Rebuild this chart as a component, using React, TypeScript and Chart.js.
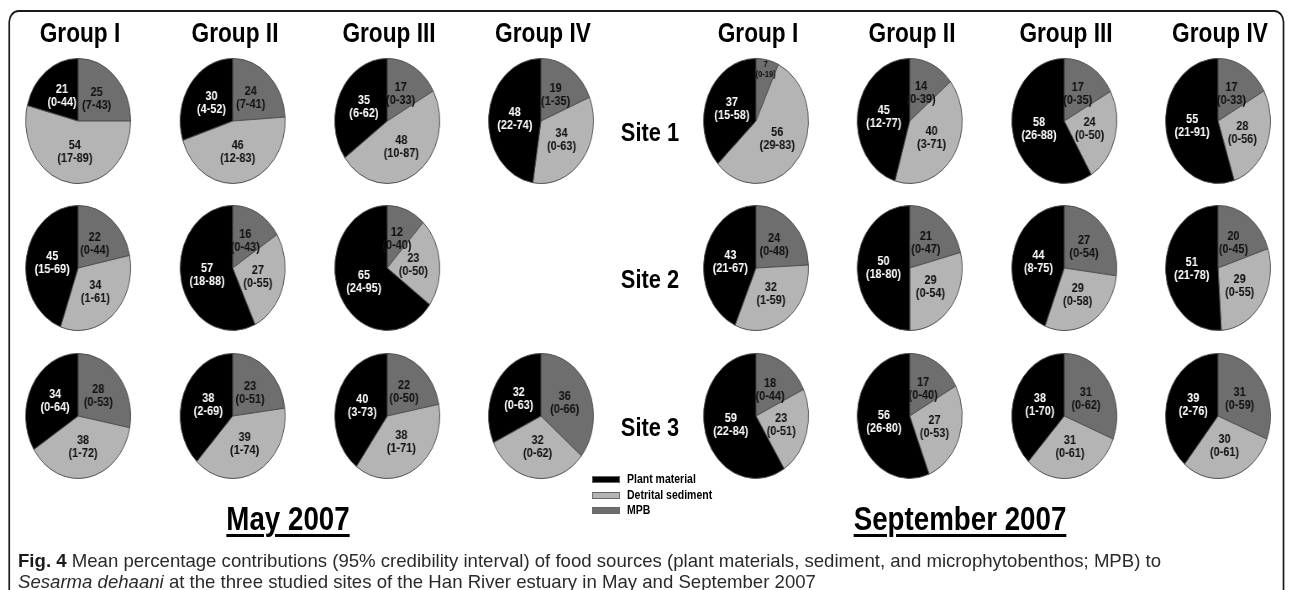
import React, { useEffect, useRef } from 'react';
import { Chart, registerables } from 'chart.js';

Chart.register(...registerables);

// ---------------- DATA ----------------
const groups = ['Group I', 'Group II', 'Group III', 'Group IV'];
const sites = ['Site 1', 'Site 2', 'Site 3'];
const periods = ['May 2007', 'September 2007'];
const sources = ['Plant material', 'Detrital sediment', 'MPB'];

// rows = sites, columns = groups; null = no pie
const mayPlant = [[21, 30, 35, 48], [45, 57, 65, null], [34, 38, 40, 32]];
const mayPlantCI = [['0-44', '4-52', '6-62', '22-74'], ['15-69', '18-88', '24-95', null], ['0-64', '2-69', '3-73', '0-63']];
const maySediment = [[54, 46, 48, 34], [34, 27, 23, null], [38, 39, 38, 32]];
const maySedimentCI = [['17-89', '12-83', '10-87', '0-63'], ['1-61', '0-55', '0-50', null], ['1-72', '1-74', '1-71', '0-62']];
const mayMpb = [[25, 24, 17, 19], [22, 16, 12, null], [28, 23, 22, 36]];
const mayMpbCI = [['7-43', '7-41', '0-33', '1-35'], ['0-44', '0-43', '0-40', null], ['0-53', '0-51', '0-50', '0-66']];

const sepPlant = [[37, 45, 58, 55], [43, 50, 44, 51], [59, 56, 38, 39]];
const sepPlantCI = [['15-58', '12-77', '26-88', '21-91'], ['21-67', '18-80', '8-75', '21-78'], ['22-84', '26-80', '1-70', '2-76']];
const sepSediment = [[56, 40, 24, 28], [32, 29, 29, 29], [23, 27, 31, 30]];
const sepSedimentCI = [['29-83', '3-71', '0-50', '0-56'], ['1-59', '0-54', '0-58', '0-55'], ['0-51', '0-53', '0-61', '0-61']];
const sepMpb = [[7, 14, 17, 17], [24, 21, 27, 20], [18, 17, 31, 31]];
const sepMpbCI = [['0-19', '0-39', '0-35', '0-33'], ['0-48', '0-47', '0-54', '0-45'], ['0-44', '0-40', '0-62', '0-59']];

// ---------------- STYLE / LAYOUT ----------------
const S = 0.84; // horizontal squeeze of the original figure
const VW = 1290 / S;
const FONT = "'Liberation Sans', Arial, Helvetica, sans-serif";
const COL_PLANT = '#000000';
const COL_SED = '#b4b4b4';
const COL_MPB = '#6e6e6e';
const PIE_D = 126;

const colX = [[78, 233, 387, 541], [756, 910, 1064, 1218]];
const rowY = [121, 268, 416];

const sliceLabels = {
  id: 'sliceLabels',
  afterDatasetsDraw(chart: any) {
    const ctx = chart.ctx;
    const meta = chart.getDatasetMeta(0);
    const opts = chart.options.plugins.sliceLabels;
    const vals = chart.data.datasets[0].data;
    meta.data.forEach((arc: any, i: number) => {
      const p = arc.getProps(['x', 'y', 'startAngle', 'endAngle', 'outerRadius'], true);
      const v = vals[i];
      const small = v < 10;
      const mid = (p.startAngle + p.endAngle) / 2;
      const f = small ? 0.84 : 0.5;
      const px = p.x + Math.cos(mid) * p.outerRadius * f;
      const py = p.y + Math.sin(mid) * p.outerRadius * f;
      const fs = small ? 9 : 13;
      const lh = small ? 10 : 13;
      ctx.save();
      ctx.font = `bold ${fs}px ${FONT}`;
      ctx.textAlign = 'center';
      ctx.textBaseline = 'middle';
      ctx.fillStyle = opts.textColors[i];
      ctx.fillText(String(v), px, py - lh / 2);
      ctx.fillText(`(${opts.cis[i]})`, px, py + lh / 2);
      ctx.restore();
    });
  },
};

function Pie({ plant, sed, mpb, plantCI, sedCI, mpbCI, cx, cy }: any) {
  const ref = useRef<HTMLCanvasElement | null>(null);
  useEffect(() => {
    if (!ref.current) return;
    const chart = new Chart(ref.current, {
      type: 'pie',
      data: {
        labels: [sources[2], sources[1], sources[0]],
        datasets: [
          {
            data: [mpb, sed, plant],
            backgroundColor: [COL_MPB, COL_SED, COL_PLANT],
            borderColor: '#505050',
            borderWidth: 1,
          },
        ],
      },
      options: {
        animation: false,
        responsive: false,
        events: [],
        layout: { padding: 0 },
        plugins: {
          legend: { display: false },
          tooltip: { enabled: false },
          sliceLabels: { cis: [mpbCI, sedCI, plantCI], textColors: ['#111', '#111', '#fff'] },
        } as any,
      },
      plugins: [sliceLabels],
    });
    return () => chart.destroy();
  }, []);
  return (
    <canvas
      ref={ref}
      width={PIE_D}
      height={PIE_D}
      style={{ position: 'absolute', left: cx / S - PIE_D / 2, top: cy - PIE_D / 2, width: PIE_D, height: PIE_D }}
    />
  );
}

function Text({ x, y, children, style }: any) {
  return (
    <div
      style={{
        position: 'absolute',
        left: x / S,
        top: y,
        transform: 'translate(-50%, -50%)',
        whiteSpace: 'nowrap',
        fontFamily: FONT,
        fontWeight: 'bold',
        color: '#000',
        ...style,
      }}
    >
      {children}
    </div>
  );
}

export default function App() {
  const panels = [
    { plant: mayPlant, plantCI: mayPlantCI, sed: maySediment, sedCI: maySedimentCI, mpb: mayMpb, mpbCI: mayMpbCI },
    { plant: sepPlant, plantCI: sepPlantCI, sed: sepSediment, sedCI: sepSedimentCI, mpb: sepMpb, mpbCI: sepMpbCI },
  ];
  const pies: any[] = [];
  panels.forEach((pn, pi) => {
    sites.forEach((_, si) => {
      groups.forEach((_, gi) => {
        if (pn.plant[si][gi] == null) return;
        pies.push(
          <Pie
            key={`${pi}-${si}-${gi}`}
            plant={pn.plant[si][gi]}
            sed={pn.sed[si][gi]}
            mpb={pn.mpb[si][gi]}
            plantCI={pn.plantCI[si][gi]}
            sedCI={pn.sedCI[si][gi]}
            mpbCI={pn.mpbCI[si][gi]}
            cx={colX[pi][gi]}
            cy={rowY[si]}
          />
        );
      });
    });
  });

  const legendColors = [COL_PLANT, COL_SED, COL_MPB];
  const legendY = [479, 495, 510];

  return (
    <div style={{ position: 'absolute', left: 0, top: 0, width: 1290, height: 590, overflow: 'hidden', background: '#fff' }}>
      <div style={{ position: 'absolute', left: 0, top: 0, width: VW, height: 590, transform: `scaleX(${S})`, transformOrigin: '0 0' }}>
        {/* frame */}
        <div
          style={{
            position: 'absolute',
            left: 8 / S,
            top: 10,
            width: 1276 / S,
            height: 620,
            border: '2px solid #1a1a1a',
            borderRadius: 12,
            boxSizing: 'border-box',
          }}
        />
        {/* group headers */}
        {colX.map((cols, pi) =>
          cols.map((x, gi) => (
            <Text key={`h${pi}${gi}`} x={x + 2} y={33} style={{ fontSize: 27 }}>
              {groups[gi]}
            </Text>
          ))
        )}
        {/* site labels */}
        {sites.map((s, si) => (
          <Text key={`s${si}`} x={650} y={rowY[si] + 11} style={{ fontSize: 26 }}>
            {s}
          </Text>
        ))}
        {pies}
        {/* period titles */}
        {periods.map((p, i) => (
          <Text
            key={`p${i}`}
            x={i === 0 ? 288 : 960}
            y={519}
            style={{ fontSize: 33, textDecoration: 'underline', textDecorationThickness: '3px', textUnderlineOffset: '4px' }}
          >
            {p}
          </Text>
        ))}
        {/* legend */}
        {sources.map((s, i) => (
          <React.Fragment key={`l${i}`}>
            <div
              style={{
                position: 'absolute',
                left: 592 / S,
                top: legendY[i] - 3,
                width: 28 / S,
                height: 7,
                background: legendColors[i],
                boxSizing: 'border-box',
                border: '1px solid #666',
              }}
            />
            <div
              style={{
                position: 'absolute',
                left: 627 / S,
                top: legendY[i],
                transform: 'translateY(-50%)',
                whiteSpace: 'nowrap',
                fontFamily: FONT,
                fontWeight: 'bold',
                fontSize: 12.5,
              }}
            >
              {s}
            </div>
          </React.Fragment>
        ))}
      </div>
      {/* caption */}
      <div
        style={{
          position: 'absolute',
          left: 18,
          top: 550,
          fontFamily: FONT,
          fontSize: 18.6,
          lineHeight: '21px',
          color: '#2a2a2a',
          whiteSpace: 'nowrap',
        }}
      >
        <div>
          <b style={{ color: '#1a1a1a' }}>Fig. 4</b> Mean percentage contributions (95% credibility interval) of food sources (plant materials, sediment, and microphytobenthos; MPB) to
        </div>
        <div>
          <i>Sesarma dehaani</i> at the three studied sites of the Han River estuary in May and September 2007
        </div>
      </div>
    </div>
  );
}
